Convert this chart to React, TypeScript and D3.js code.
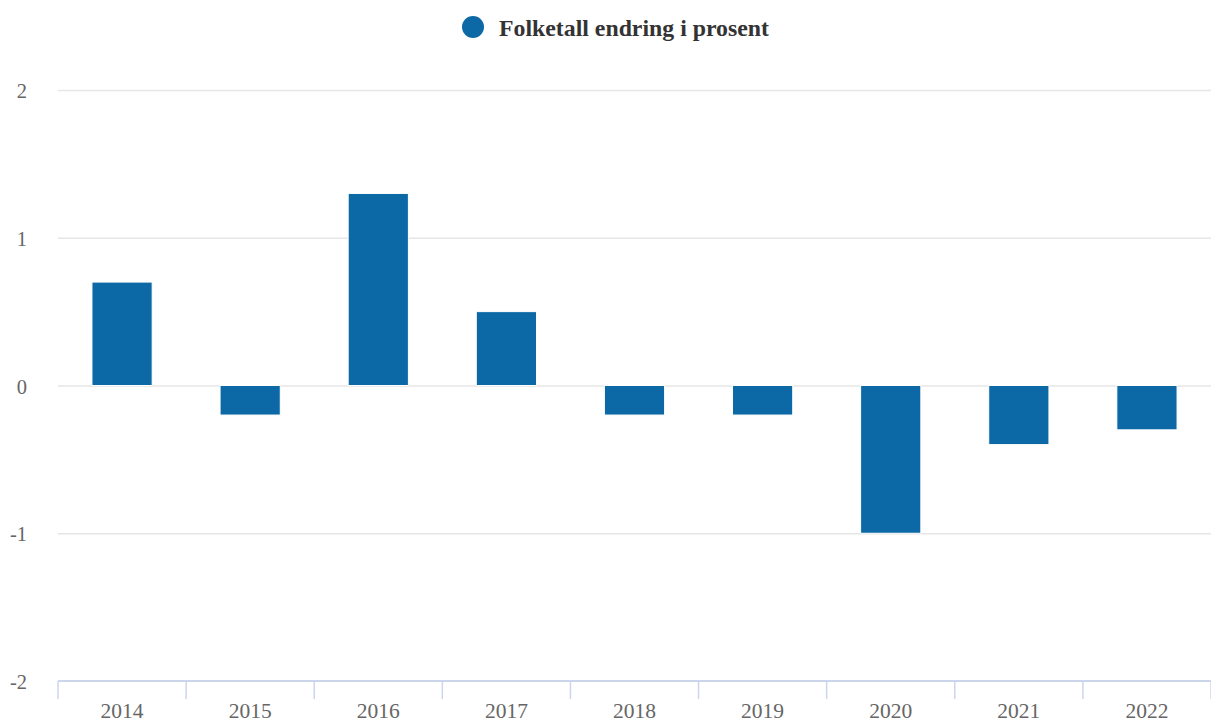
import React, { useEffect, useRef } from 'react';
import * as d3 from 'd3';

// data
const years = ['2014', '2015', '2016', '2017', '2018', '2019', '2020', '2021', '2022'];
const change = [0.7, -0.2, 1.3, 0.5, -0.2, -0.2, -1.0, -0.4, -0.3];
const yTicks = [-2, -1, 0, 1, 2];
const seriesName = 'Folketall endring i prosent';

const W = 1211;
const H = 718;
const FONT = '"Liberation Serif", "Times New Roman", serif';
const BAR = '#0c69a5';

const App: React.FC = () => {
  const ref = useRef<SVGSVGElement | null>(null);

  useEffect(() => {
    const svg = d3.select(ref.current);
    svg.selectAll('*').remove();

    const margin = { top: 90, right: 0, bottom: 37, left: 58 };

    const x = d3.scaleBand<string>()
      .domain(years)
      .range([margin.left, W - margin.right])
      .paddingInner(0.53)
      .paddingOuter(0.265);

    const xCat = d3.scaleBand<string>()
      .domain(years)
      .range([margin.left, W - margin.right]);

    const y = d3.scaleLinear()
      .domain([-2, 2])
      .range([H - margin.bottom, margin.top]);

    // gridlines
    svg.append('g')
      .selectAll('line')
      .data(yTicks.filter(t => t !== -2))
      .join('line')
      .attr('x1', margin.left)
      .attr('x2', W - margin.right)
      .attr('y1', d => y(d) + 0.5)
      .attr('y2', d => y(d) + 0.5)
      .attr('stroke', '#e6e6e6')
      .attr('stroke-width', 1.5);

    // y labels
    svg.append('g')
      .selectAll('text')
      .data(yTicks)
      .join('text')
      .attr('x', 27)
      .attr('y', d => y(d) + 8)
      .attr('text-anchor', 'end')
      .attr('font-family', FONT)
      .attr('font-size', 20.5)
      .attr('fill', '#666')
      .text(d => String(d));

    // bars
    svg.append('g')
      .selectAll('rect')
      .data(years.map((yr, i) => ({ yr, v: change[i] })))
      .join('rect')
      .attr('x', d => x(d.yr)!)
      .attr('width', x.bandwidth())
      .attr('y', d => y(Math.max(0, d.v)))
      .attr('height', d => Math.abs(y(d.v) - y(0)))
      .attr('fill', BAR)
      .attr('stroke', '#fff')
      .attr('stroke-width', 1);

    // x axis
    const axisY = y(-2);
    const gx = svg.append('g');
    gx.append('line')
      .attr('x1', margin.left)
      .attr('x2', W)
      .attr('y1', axisY)
      .attr('y2', axisY)
      .attr('stroke', '#ccd6eb')
      .attr('stroke-width', 2);
    const edges = years.map(yr => xCat(yr)!).concat([W - margin.right]);
    gx.selectAll('line.tick')
      .data(edges)
      .join('line')
      .attr('class', 'tick')
      .attr('x1', d => d)
      .attr('x2', d => d)
      .attr('y1', axisY)
      .attr('y2', axisY + 18)
      .attr('stroke', '#ccd6eb')
      .attr('stroke-width', 1.5);
    gx.selectAll('text')
      .data(years)
      .join('text')
      .attr('x', d => xCat(d)! + xCat.bandwidth() / 2)
      .attr('y', axisY + 36.5)
      .attr('text-anchor', 'middle')
      .attr('font-family', FONT)
      .attr('font-size', 21.5)
      .attr('fill', '#666')
      .text(d => d);

    // legend
    const lg = svg.append('g');
    lg.append('circle')
      .attr('cx', 473)
      .attr('cy', 27)
      .attr('r', 11)
      .attr('fill', BAR);
    lg.append('text')
      .attr('x', 499)
      .attr('y', 36)
      .attr('font-family', FONT)
      .attr('font-size', 23.8)
      .attr('font-weight', 'bold')
      .attr('fill', '#333')
      .text(seriesName);
  }, []);

  return (
    <div style={{ position: 'absolute', left: 0, top: 0 }}>
      <svg ref={ref} width={W} height={H} style={{ display: 'block', background: '#fff' }}></svg>
    </div>
  );
};

export default App;
